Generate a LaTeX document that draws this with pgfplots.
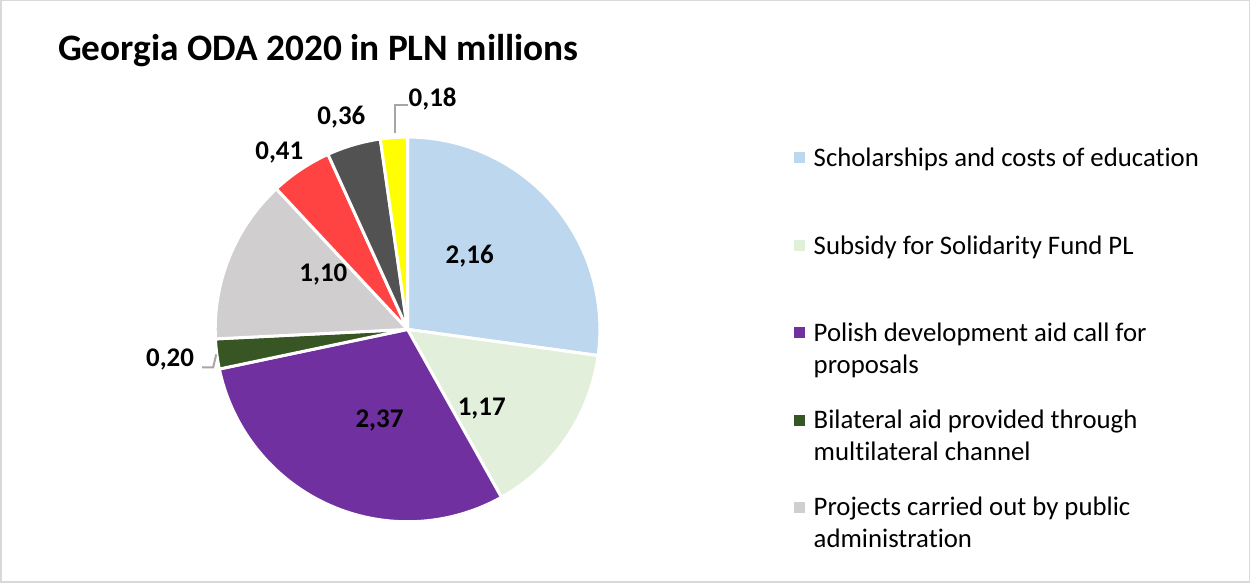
\documentclass[border=0pt]{standalone}
\usepackage{fontspec}
\setmainfont{Carlito}[Ligatures=NoCommon]
\usepackage{pgfplots}
\usepackage{pgfplotstable}
\pgfplotsset{compat=1.18}

\definecolor{cScholar}{HTML}{BDD7EE}
\definecolor{cSubsidy}{HTML}{E2EFDA}
\definecolor{cCall}{HTML}{7030A0}
\definecolor{cBilat}{HTML}{375623}
\definecolor{cPublic}{HTML}{D0CECE}
\definecolor{cRed}{HTML}{FF4343}
\definecolor{cDark}{HTML}{525252}
\definecolor{cYellow}{HTML}{FFFF00}
\definecolor{frame}{HTML}{D9D9D9}
\definecolor{leader}{HTML}{A6A6A6}

% slice value, colour, label base position (pixel coords, y downwards)
\pgfplotstableread{
value color   lx  ly
2.16 cScholar 470 264
1.17 cSubsidy 482 416
2.37 cCall    380 428
0.20 cBilat   171 367
1.10 cPublic  324 282
0.41 cRed     280 160
0.36 cDark    342 126
0.18 cYellow  433 108
}\slices

\tikzset{
  lbl/.style={font=\bfseries\fontsize{15.3}{18}\selectfont, anchor=base, inner sep=0pt},
  leg/.style={font=\fontsize{15.2}{18}\selectfont, anchor=base west, inner sep=0pt},
}
\pgfkeys{/pgf/number format/.cd, assume math mode=true, use comma, fixed, fixed zerofill, precision=2}

\begin{document}
\begin{tikzpicture}
\pgfplotstablegetrowsof{\slices}
\pgfmathtruncatemacro\nrows{\pgfplotsretval-1}
\def\total{0}
\pgfplotsforeachungrouped \i in {0,...,\nrows}{%
  \pgfplotstablegetelem{\i}{value}\of\slices
  \pgfmathsetmacro\total{\total+\pgfplotsretval}%
}
\begin{axis}[
    x=0.02cm, y=0.02cm,
    xmin=0, xmax=1250, ymin=0, ymax=584,
    y dir=reverse,
    scale only axis,
    hide axis,
    clip=false,
]
% chart frame
\draw[frame, line width=0.03cm] (axis cs:2,2) rectangle (axis cs:1248,582);

% title
\node[font=\bfseries\fontsize{21.2}{25}\selectfont, anchor=base west, inner sep=0pt]
  at (axis cs:59,62) {Georgia ODA 2020 in PLN millions};

% pie slices, clockwise from the top
\def\angA{90}
\pgfplotsforeachungrouped \i in {0,...,\nrows}{%
  \pgfplotstablegetelem{\i}{value}\of\slices \let\val\pgfplotsretval
  \pgfplotstablegetelem{\i}{color}\of\slices \let\col\pgfplotsretval
  \pgfplotstablegetelem{\i}{lx}\of\slices \let\lx\pgfplotsretval
  \pgfplotstablegetelem{\i}{ly}\of\slices \let\ly\pgfplotsretval
  \pgfmathsetmacro\angB{\angA-360*\val/\total}%
  \edef\temp{%
    \noexpand\fill[\col, draw=white, line width=0.06cm, line join=round]
      (axis cs:408,330) -- ++(\angA:3.84cm)
      arc[start angle=\angA, end angle=\angB, radius=3.84cm] -- cycle;
    \noexpand\node[lbl] at (axis cs:\lx,\ly) {\noexpand\pgfmathprintnumber{\val}};
  }%
  \temp
  \let\angA\angB
}

% leader lines for the small outer labels
\draw[leader, line width=0.04cm] (axis cs:395,134) -- (axis cs:395,106) -- (axis cs:408,106);
\draw[leader, line width=0.04cm] (axis cs:203,368) -- (axis cs:214,368) -- (axis cs:217,355);

% legend
\fill[cScholar] (axis cs:794,153) rectangle (axis cs:805,164);
\node[leg] at (axis cs:813,167) {Scholarships and costs of education};
\fill[cSubsidy] (axis cs:794,241) rectangle (axis cs:805,252);
\node[leg] at (axis cs:813,255) {Subsidy for Solidarity Fund PL};
\fill[cCall] (axis cs:794,328) rectangle (axis cs:805,339);
\node[leg] at (axis cs:813,342) {Polish development aid call for};
\node[leg] at (axis cs:813,374) {proposals};
\fill[cBilat] (axis cs:794,415) rectangle (axis cs:805,426);
\node[leg] at (axis cs:813,429) {Bilateral aid provided through};
\node[leg] at (axis cs:813,461) {multilateral channel};
\fill[cPublic] (axis cs:794,502) rectangle (axis cs:805,513);
\node[leg] at (axis cs:813,516) {Projects carried out by public};
\node[leg] at (axis cs:813,548) {administration};
\end{axis}
\end{tikzpicture}
\end{document}
